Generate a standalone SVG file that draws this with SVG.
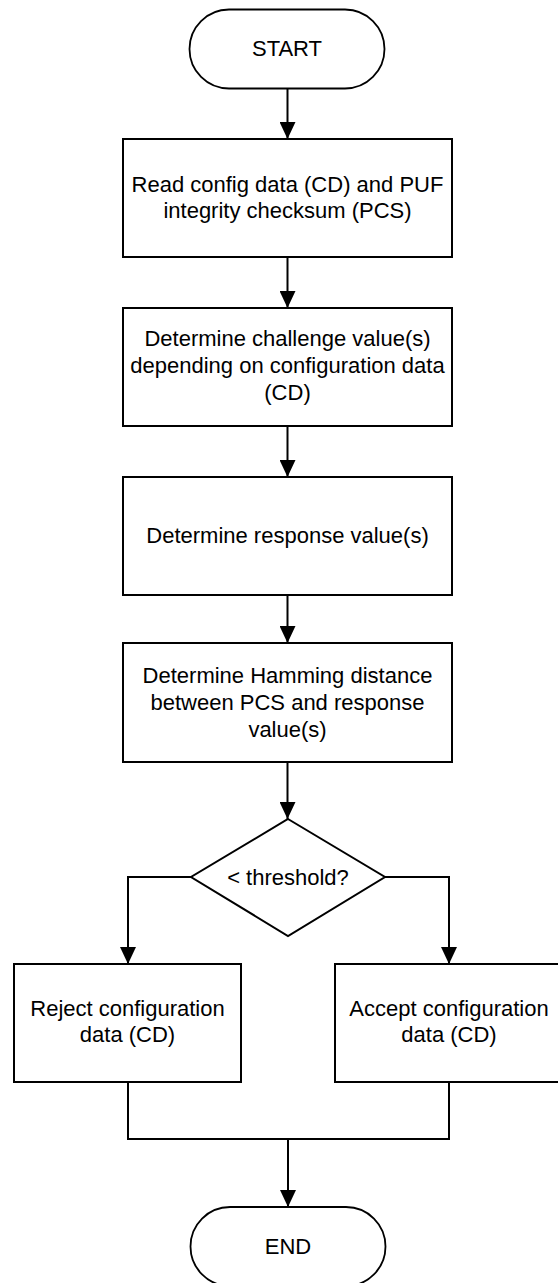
<svg xmlns="http://www.w3.org/2000/svg" width="558" height="1283" viewBox="0 0 558 1283">
<style>
  .shape { fill: #ffffff; stroke: #000000; stroke-width: 2; }
  .term { fill: #ffffff; stroke: #000000; stroke-width: 1.8; }
  .conn { fill: none; stroke: #000000; stroke-width: 2; }
  .lbl { font-family: "Liberation Sans", Arial, sans-serif; font-size: 22px; fill: #000000; text-anchor: middle; }
</style>
<defs>
  <marker id="arrow" viewBox="0 0 17 16" refX="17" refY="8" markerWidth="17" markerHeight="16" markerUnits="userSpaceOnUse" orient="auto">
    <path d="M0,0 L17,8 L0,16 Z" fill="#000000"/>
  </marker>
</defs>
<rect x="0" y="0" width="558" height="1283" fill="#ffffff"/>

<g id="connectors">
  <line class="conn" x1="287.5" y1="88" x2="287.5" y2="139" marker-end="url(#arrow)"/>
  <line class="conn" x1="287.5" y1="257" x2="287.5" y2="308" marker-end="url(#arrow)"/>
  <line class="conn" x1="287.5" y1="426" x2="287.5" y2="477" marker-end="url(#arrow)"/>
  <line class="conn" x1="287.5" y1="595" x2="287.5" y2="643" marker-end="url(#arrow)"/>
  <line class="conn" x1="287.5" y1="762" x2="287.5" y2="819" marker-end="url(#arrow)"/>
  <polyline class="conn" points="191,877 128,877 128,964" marker-end="url(#arrow)"/>
  <polyline class="conn" points="385,877 449,877 449,964" marker-end="url(#arrow)"/>
  <polyline class="conn" points="128,1082 128,1139 449,1139 449,1082"/>
  <line class="conn" x1="288" y1="1139" x2="288" y2="1207" marker-end="url(#arrow)"/>
</g>

<g id="start">
  <rect class="term" x="189.5" y="9.5" width="195" height="79" rx="39.5" ry="39.5"/>
  <text class="lbl" x="287" y="56">START</text>
</g>

<g id="read-config">
  <rect class="shape" x="123" y="139" width="329" height="118"/>
  <text class="lbl" x="287.5" y="192">Read config data (CD) and PUF</text>
  <text class="lbl" x="287.5" y="218">integrity checksum (PCS)</text>
</g>

<g id="determine-challenge">
  <rect class="shape" x="123" y="308" width="329" height="118"/>
  <text class="lbl" x="287.5" y="346">Determine challenge value(s)</text>
  <text class="lbl" x="287.5" y="373">depending on configuration data</text>
  <text class="lbl" x="287.5" y="400">(CD)</text>
</g>

<g id="determine-response">
  <rect class="shape" x="123" y="477" width="329" height="118"/>
  <text class="lbl" x="287.5" y="543">Determine response value(s)</text>
</g>

<g id="determine-hamming">
  <rect class="shape" x="123" y="643" width="329" height="119"/>
  <text class="lbl" x="287.5" y="683">Determine Hamming distance</text>
  <text class="lbl" x="287.5" y="710">between PCS and response</text>
  <text class="lbl" x="287.5" y="737">value(s)</text>
</g>

<g id="threshold">
  <polygon class="shape" points="288,819 385,877 288,936 191,877"/>
  <text class="lbl" x="288" y="885">&lt; threshold?</text>
</g>

<g id="reject">
  <rect class="shape" x="14" y="964" width="227" height="118"/>
  <text class="lbl" x="127.5" y="1016">Reject configuration</text>
  <text class="lbl" x="127.5" y="1042">data (CD)</text>
</g>

<g id="accept">
  <rect class="shape" x="335" y="964" width="228" height="118"/>
  <text class="lbl" x="449" y="1016">Accept configuration</text>
  <text class="lbl" x="449" y="1042">data (CD)</text>
</g>

<g id="end">
  <rect class="term" x="190.5" y="1207" width="195" height="79" rx="39.5" ry="39.5"/>
  <text class="lbl" x="288" y="1254">END</text>
</g>
</svg>
